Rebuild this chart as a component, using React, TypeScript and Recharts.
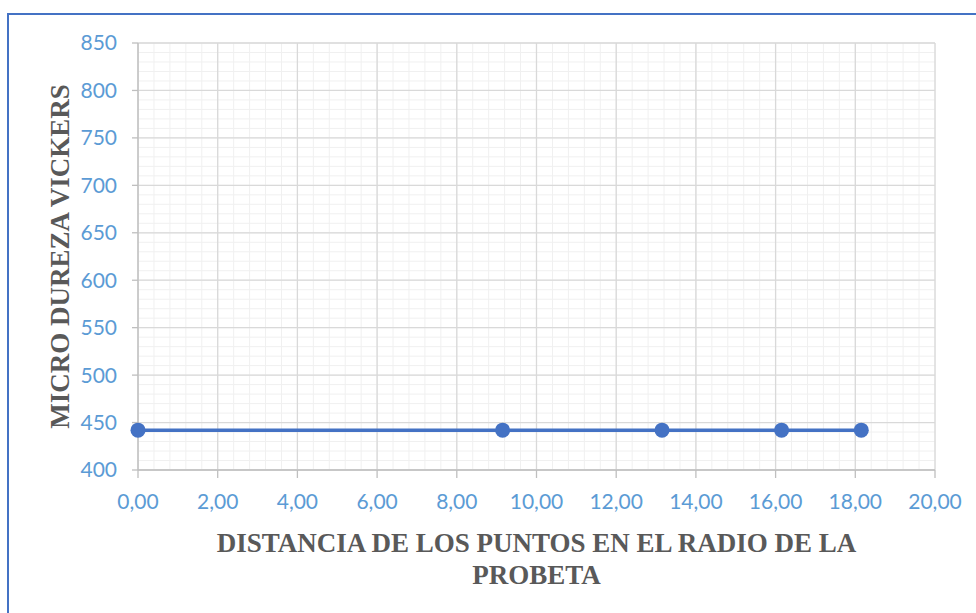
import React from 'react';
import { LineChart, Line, XAxis, YAxis, CartesianGrid, Label } from 'recharts';

const distances = [0, 9.15, 13.15, 16.15, 18.15];
const hardness = [442, 442, 442, 442, 442];
const xTicks = [0, 2, 4, 6, 8, 10, 12, 14, 16, 18, 20];
const yTicks = [400, 450, 500, 550, 600, 650, 700, 750, 800, 850];

// minor gridlines: 5 per major step
const xMinor = Array.from({ length: 51 }, (_, i) => +(i * 0.4).toFixed(1));
const yMinor = Array.from({ length: 46 }, (_, i) => 400 + i * 10);

const data = distances.map((d, i) => ({ x: d, y: hardness[i] }));

const tickFont = { fill: '#5B9BD5', fontSize: 21, fontFamily: 'Lato, "Open Sans", sans-serif' };
const titleStyle = { fill: '#595959', fontSize: 27, fontWeight: 700, fontFamily: '"Liberation Serif", "Times New Roman", serif' };

const XTitle = ({ viewBox }: any) => {
  const cx = viewBox.x + viewBox.width / 2;
  return (
    <text textAnchor="middle" style={titleStyle}>
      <tspan x={cx} y={552}>DISTANCIA DE LOS PUNTOS EN EL RADIO DE LA</tspan>
      <tspan x={cx} y={584}>PROBETA</tspan>
    </text>
  );
};

const YTitle = ({ viewBox }: any) => {
  const cy = viewBox.y + viewBox.height / 2;
  return (
    <text x={69} y={cy} textAnchor="middle" transform={`rotate(-90 69 ${cy})`} style={titleStyle}>
      MICRO DUREZA VICKERS
    </text>
  );
};

export default function App() {
  return (
    <div style={{ position: 'fixed', left: 0, top: 0, width: 976, height: 613, background: '#fff', overflow: 'hidden' }}>
      <div style={{ position: 'absolute', left: 7, top: 13, width: 1000, height: 700, border: '2px solid #4472C4', boxSizing: 'border-box' }} />
      <div style={{ position: 'absolute', left: 0, top: 0 }}>
        <LineChart width={976} height={613} data={data} margin={{ top: 43, right: 41, left: 58, bottom: 103 }}>
          <CartesianGrid stroke="#F0F0F0" strokeWidth={1} horizontalValues={yMinor} verticalValues={xMinor} />
          <CartesianGrid stroke="#D9D9D9" strokeWidth={1.3} horizontalValues={yTicks} verticalValues={xTicks} />
          <XAxis
            type="number"
            dataKey="x"
            domain={[0, 20]}
            ticks={xTicks}
            interval={0}
            tickFormatter={(v) => v.toFixed(2).replace('.', ',')}
            stroke="#BFBFBF"
            strokeWidth={1.3}
            tick={tickFont}
            tickSize={8}
            tickMargin={16}
            height={40}
          >
            <Label content={<XTitle />} />
          </XAxis>
          <YAxis
            type="number"
            domain={[400, 850]}
            ticks={yTicks}
            interval={0}
            stroke="#BFBFBF"
            strokeWidth={1.3}
            tick={tickFont}
            tickSize={6}
            tickMargin={15}
            width={80}
          >
            <Label content={<YTitle />} />
          </YAxis>
          <Line
            dataKey="y"
            stroke="#4472C4"
            strokeWidth={3.5}
            dot={{ r: 7.5, fill: '#4472C4', stroke: '#4472C4', strokeWidth: 0 }}
            isAnimationActive={false}
          />
        </LineChart>
      </div>
    </div>
  );
}
